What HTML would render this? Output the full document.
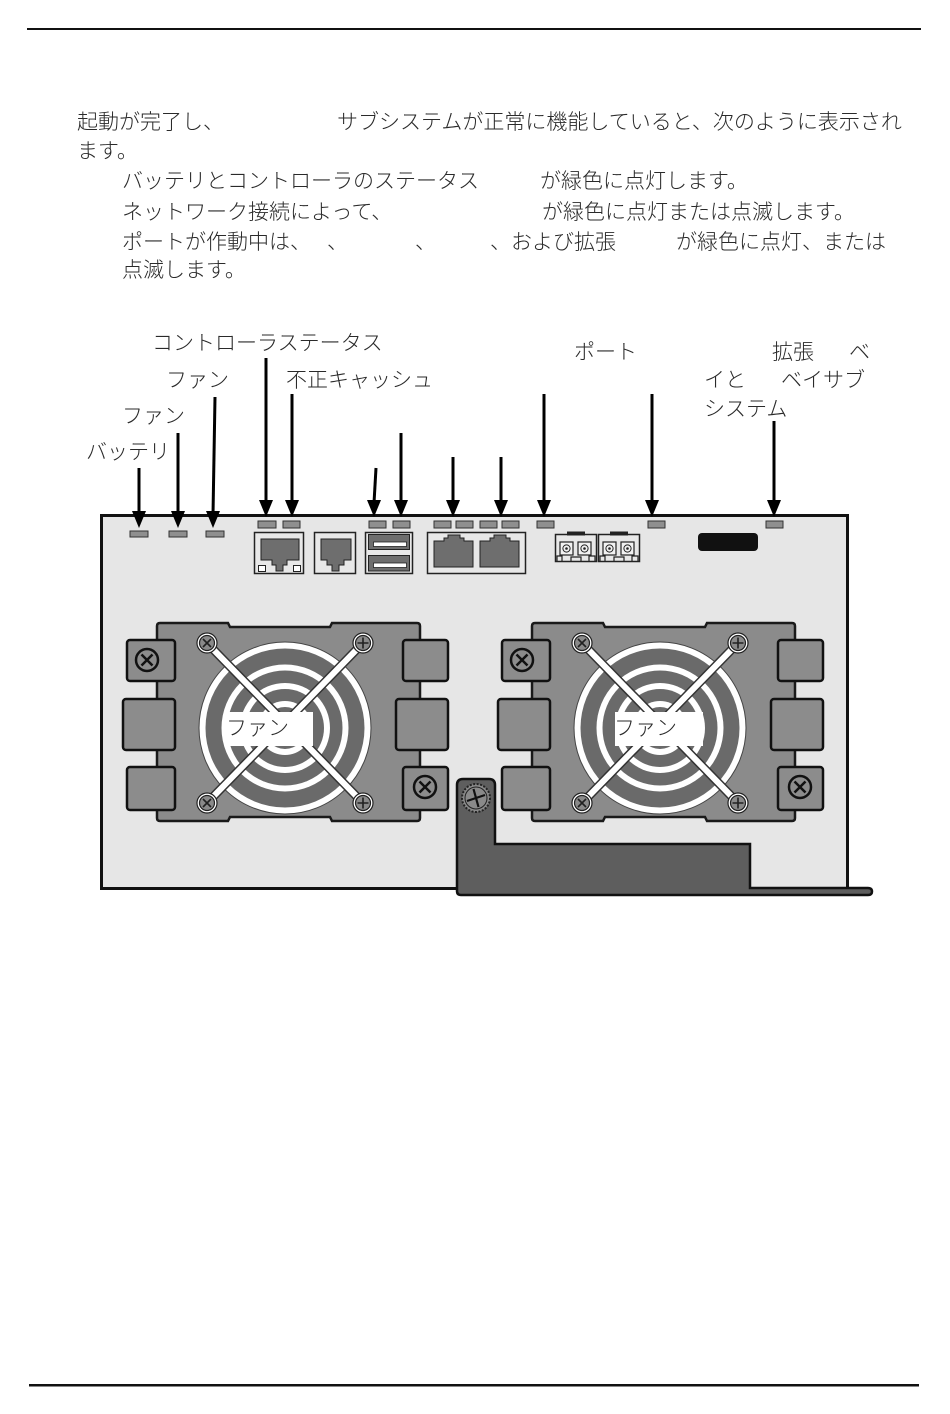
<!DOCTYPE html>
<html><head><meta charset="utf-8">
<style>
html,body{margin:0;padding:0;background:#fff;}
body{width:950px;height:1414px;position:relative;overflow:hidden;}
.t{position:absolute;font-family:"Liberation Sans","Noto Sans CJK JP",sans-serif;font-size:21px;line-height:21px;white-space:nowrap;color:#2a2a2a;font-weight:300;}
svg{position:absolute;left:0;top:0;}
</style></head><body>
<svg width="950" height="1414" viewBox="0 0 950 1414" xmlns="http://www.w3.org/2000/svg">
<defs>
<g id="fan">
  <path d="M-125,-105 H-57 L-55,-101 H45 L47,-105 H132 Q135,-105 135,-102 V90 Q135,93 132,93 H47 L45,89 H-55 L-57,93 H-125 Q-128,93 -128,90 V-102 Q-128,-105 -125,-105 Z" fill="#8b8b8b" stroke="#1a1a1a" stroke-width="2.5"/>
  <rect x="-158" y="-88" width="48" height="41" rx="3" fill="#8c8c8c" stroke="#111" stroke-width="2.5"/>
  <rect x="-162" y="-29" width="52" height="51" rx="3" fill="#8c8c8c" stroke="#111" stroke-width="2.5"/>
  <rect x="-158" y="39" width="48" height="43" rx="3" fill="#8c8c8c" stroke="#111" stroke-width="2.5"/>
  <rect x="118" y="-88" width="45" height="41" rx="3" fill="#8c8c8c" stroke="#111" stroke-width="2.5"/>
  <rect x="111" y="-29" width="52" height="51" rx="3" fill="#8c8c8c" stroke="#111" stroke-width="2.5"/>
  <rect x="118" y="39" width="45" height="43" rx="3" fill="#8c8c8c" stroke="#111" stroke-width="2.5"/>
  <circle cx="-138" cy="-68" r="11" fill="#8c8c8c" stroke="#111" stroke-width="2.5"/>
  <path d="M-143.5,-73.5 L-132.5,-62.5 M-132.5,-73.5 L-143.5,-62.5" stroke="#111" stroke-width="2.5"/>
  <circle cx="140" cy="59" r="11" fill="#8c8c8c" stroke="#111" stroke-width="2.5"/>
  <path d="M134.5,53.5 L145.5,64.5 M145.5,53.5 L134.5,64.5" stroke="#111" stroke-width="2.5"/>
  <circle r="86" fill="#fff" stroke="#444" stroke-width="1"/>
  <circle r="79.5" fill="#6a6a6a"/>
  <circle r="63.5" fill="#fff"/>
  <circle r="57.5" fill="#6a6a6a"/>
  <circle r="45" fill="#fff"/>
  <circle r="39" fill="#6a6a6a"/>
  <circle r="27" fill="#fff"/>
  <circle r="21" fill="#6a6a6a"/>
  <path d="M-78,-85 L78,75 M78,-85 L-78,75" stroke="#333" stroke-width="9"/>
  <path d="M-78,-85 L78,75 M78,-85 L-78,75" stroke="#fff" stroke-width="6"/>
  <g stroke="#222" stroke-width="1.2">
    <circle cx="-78" cy="-85" r="10" fill="#fff"/><circle cx="-78" cy="-85" r="7.5" fill="#8a8a8a"/>
    <circle cx="78" cy="-85" r="10" fill="#fff"/><circle cx="78" cy="-85" r="7.5" fill="#8a8a8a"/>
    <circle cx="-78" cy="75" r="10" fill="#fff"/><circle cx="-78" cy="75" r="7.5" fill="#8a8a8a"/>
    <circle cx="78" cy="75" r="10" fill="#fff"/><circle cx="78" cy="75" r="7.5" fill="#8a8a8a"/>
  </g>
  <g stroke="#222" stroke-width="1.6">
    <path d="M-82,-89 L-74,-81 M-74,-89 L-82,-81"/>
    <path d="M78,-90.5 V-79.5 M72.5,-85 H83.5"/>
    <path d="M-82,71 L-74,79 M-74,71 L-82,79"/>
    <path d="M78,69.5 V80.5 M72.5,75 H83.5"/>
  </g>
</g>
</defs>

<!-- page rules -->
<rect x="27" y="28" width="894" height="2" fill="#111"/>
<rect x="29" y="1384" width="890" height="2.5" fill="#111"/>

<!-- panel -->
<rect x="101.5" y="515.5" width="746" height="373" fill="#e6e6e6" stroke="#111" stroke-width="3"/>

<!-- LEDs -->
<g fill="#8f8f8f" stroke="#333" stroke-width="1">
  <rect x="130" y="531" width="18" height="6"/>
  <rect x="169" y="531" width="18" height="6"/>
  <rect x="206" y="531" width="18" height="6"/>
  <rect x="258" y="521" width="18" height="7"/>
  <rect x="283" y="521" width="17" height="7"/>
  <rect x="369" y="521" width="17" height="7"/>
  <rect x="393" y="521" width="17" height="7"/>
  <rect x="434" y="521" width="17" height="7"/>
  <rect x="456" y="521" width="17" height="7"/>
  <rect x="480" y="521" width="17" height="7"/>
  <rect x="502" y="521" width="17" height="7"/>
  <rect x="537" y="521" width="17" height="7"/>
  <rect x="648" y="521" width="17" height="7"/>
  <rect x="766" y="521" width="17" height="7"/>
</g>

<!-- RJ45 box 1 -->
<rect x="254.5" y="532.5" width="49" height="41" fill="#e8e8e8" stroke="#222" stroke-width="1.5"/>
<path d="M261,539 H299 V560 H287 V565 H283 V571 H276 V565 H272 V560 H261 Z" fill="#6e6e6e" stroke="#222" stroke-width="1"/>
<rect x="258.5" y="565.5" width="7" height="6" fill="#fff" stroke="#222" stroke-width="1"/>
<rect x="293.5" y="565.5" width="7" height="6" fill="#fff" stroke="#222" stroke-width="1"/>
<!-- RJ45 box 2 -->
<rect x="314.5" y="532.5" width="41" height="41" fill="#e8e8e8" stroke="#222" stroke-width="1.5"/>
<path d="M321,539 H351 V560 H344 V565 H339 V571 H332 V565 H327 V560 H321 Z" fill="#6e6e6e" stroke="#222" stroke-width="1"/>
<!-- USB -->
<rect x="365.5" y="532.5" width="47" height="41" fill="#e8e8e8" stroke="#222" stroke-width="1.5"/>
<rect x="368.5" y="534.5" width="41" height="15" fill="#6e6e6e" stroke="#222" stroke-width="1"/>
<rect x="373.5" y="542" width="33" height="4.5" fill="#fff" stroke="#222" stroke-width="0.8"/>
<rect x="368.5" y="555.5" width="41" height="15.5" fill="#6e6e6e" stroke="#222" stroke-width="1"/>
<rect x="373.5" y="563" width="33" height="4.5" fill="#fff" stroke="#222" stroke-width="0.8"/>
<!-- dual RJ45 -->
<rect x="427.5" y="532.5" width="98" height="41" fill="#e8e8e8" stroke="#222" stroke-width="1.5"/>
<path d="M434,567 V541 H444 V538 H448 V535 H460 V538 H464 V541 H473 V567 Z" fill="#6e6e6e" stroke="#222" stroke-width="1"/>
<path d="M480,567 V541 H490 V538 H494 V535 H506 V538 H510 V541 H519 V567 Z" fill="#6e6e6e" stroke="#222" stroke-width="1"/>
<!-- SFP cages -->
<g>
  <rect x="555.5" y="534.5" width="41" height="27" fill="#e8e8e8" stroke="#222" stroke-width="1.5"/>
  <rect x="567" y="531.5" width="18" height="4" fill="#222"/>
  <rect x="560" y="542" width="13" height="13" fill="#f2f2f2" stroke="#222" stroke-width="1.2"/>
  <rect x="578" y="542" width="13" height="13" fill="#f2f2f2" stroke="#222" stroke-width="1.2"/>
  <circle cx="566.5" cy="548.5" r="3.6" fill="none" stroke="#222" stroke-width="1"/><circle cx="566.5" cy="548.5" r="1.3" fill="#222"/>
  <circle cx="584.5" cy="548.5" r="3.6" fill="none" stroke="#222" stroke-width="1"/><circle cx="584.5" cy="548.5" r="1.3" fill="#222"/>
  <path d="M557,561 V556 H562 V561 M571,561 V557 H581 V561 M589,561 V556 H595 V561" fill="none" stroke="#222" stroke-width="1.2"/>
</g>
<g transform="translate(43,0)">
  <rect x="555.5" y="534.5" width="41" height="27" fill="#e8e8e8" stroke="#222" stroke-width="1.5"/>
  <rect x="567" y="531.5" width="18" height="4" fill="#222"/>
  <rect x="560" y="542" width="13" height="13" fill="#f2f2f2" stroke="#222" stroke-width="1.2"/>
  <rect x="578" y="542" width="13" height="13" fill="#f2f2f2" stroke="#222" stroke-width="1.2"/>
  <circle cx="566.5" cy="548.5" r="3.6" fill="none" stroke="#222" stroke-width="1"/><circle cx="566.5" cy="548.5" r="1.3" fill="#222"/>
  <circle cx="584.5" cy="548.5" r="3.6" fill="none" stroke="#222" stroke-width="1"/><circle cx="584.5" cy="548.5" r="1.3" fill="#222"/>
  <path d="M557,561 V556 H562 V561 M571,561 V557 H581 V561 M589,561 V556 H595 V561" fill="none" stroke="#222" stroke-width="1.2"/>
</g>
<!-- black display -->
<rect x="698" y="533" width="60" height="18" rx="4" fill="#111"/>

<!-- fans -->
<use href="#fan" transform="translate(285,728)"/>
<use href="#fan" transform="translate(660,728)"/>
<rect x="225" y="712" width="88" height="34" fill="#fff"/>
<rect x="615" y="712" width="88" height="34" fill="#fff"/>

<!-- handle -->
<path d="M457,785 Q457,779 463,779 H489 Q495,779 495,785 V844 H750 V888 H868 Q872,888 872,891.5 Q872,895 868,895 H461 Q457,895 457,891 Z" fill="#5e5e5e" stroke="#111" stroke-width="2.5"/>
<circle cx="476" cy="798" r="14" fill="#8a8a8a" stroke="#222" stroke-width="2" stroke-dasharray="2 1.5"/>
<circle cx="476" cy="798" r="11" fill="none" stroke="#222" stroke-width="1"/>
<path d="M467,801 L485,795 M473.5,789 L478.5,807" stroke="#111" stroke-width="2.2"/>

<!-- arrows -->
<g stroke="#000" stroke-width="3">
  <line x1="139" y1="468" x2="139" y2="515"/>
  <line x1="178" y1="433" x2="178" y2="515"/>
  <line x1="215" y1="397" x2="213" y2="515"/>
  <line x1="266" y1="358" x2="266" y2="503"/>
  <line x1="292" y1="394" x2="292" y2="503"/>
  <line x1="376" y1="468" x2="374" y2="503"/>
  <line x1="401" y1="433" x2="401" y2="503"/>
  <line x1="453" y1="457" x2="453" y2="503"/>
  <line x1="501" y1="457" x2="501" y2="503"/>
  <line x1="544" y1="394" x2="544" y2="503"/>
  <line x1="652" y1="394" x2="652" y2="503"/>
  <line x1="774" y1="421" x2="774" y2="503"/>
</g>
<g fill="#000">
  <polygon points="132,511 146,511 139,528"/>
  <polygon points="171,511 185,511 178,528"/>
  <polygon points="206,511 220,511 213,528"/>
  <polygon points="259,500 273,500 266,517"/>
  <polygon points="285,500 299,500 292,517"/>
  <polygon points="367,500 381,500 374,517"/>
  <polygon points="394,500 408,500 401,517"/>
  <polygon points="446,500 460,500 453,517"/>
  <polygon points="494,500 508,500 501,517"/>
  <polygon points="537,500 551,500 544,517"/>
  <polygon points="645,500 659,500 652,517"/>
  <polygon points="767,500 781,500 774,517"/>
</g>
</svg>

<!-- paragraph -->
<div class="t" style="left:77px;top:112px">起動が完了し、</div>
<div class="t" style="left:337px;top:112px">サブシステムが正常に機能していると、次のように表示され</div>
<div class="t" style="left:77px;top:141px">ます。</div>
<div class="t" style="left:122px;top:171px">バッテリとコントローラのステータス</div>
<div class="t" style="left:540px;top:171px">が緑色に点灯します。</div>
<div class="t" style="left:122px;top:202px">ネットワーク接続によって、</div>
<div class="t" style="left:542px;top:202px">が緑色に点灯または点滅します。</div>
<div class="t" style="left:122px;top:232px">ポートが作動中は、</div>
<div class="t" style="left:327px;top:232px">、</div>
<div class="t" style="left:415px;top:232px">、</div>
<div class="t" style="left:490px;top:232px">、および拡張</div>
<div class="t" style="left:676px;top:232px">が緑色に点灯、または</div>
<div class="t" style="left:122px;top:260px">点滅します。</div>

<!-- labels -->
<div class="t" style="left:152px;top:333px">コントローラステータス</div>
<div class="t" style="left:166px;top:370px">ファン</div>
<div class="t" style="left:286px;top:370px">不正キャッシュ</div>
<div class="t" style="left:122px;top:406px">ファン</div>
<div class="t" style="left:86px;top:442px">バッテリ</div>
<div class="t" style="left:574px;top:342px">ポート</div>
<div class="t" style="left:772px;top:342px">拡張</div>
<div class="t" style="left:849px;top:342px">ベ</div>
<div class="t" style="left:704px;top:370px">イと</div>
<div class="t" style="left:781px;top:370px">ベイサブ</div>
<div class="t" style="left:704px;top:399px">システム</div>
<div class="t" style="left:226px;top:718px">ファン</div>
<div class="t" style="left:614px;top:718px">ファン</div>
</body></html>
